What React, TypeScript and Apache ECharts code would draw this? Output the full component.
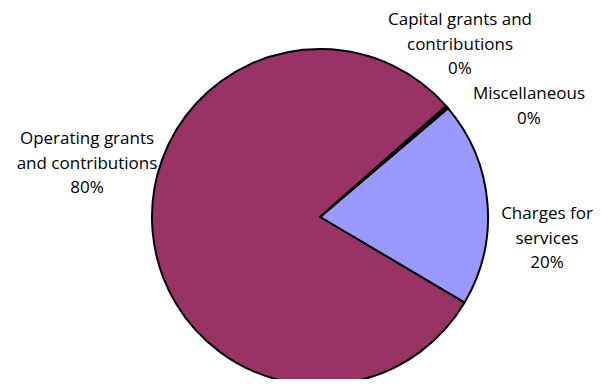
import React, { useEffect, useRef } from "react";
import * as echarts from "echarts";

const categories = [
  "Charges for\nservices",
  "Operating grants\nand contributions",
  "Capital grants and\ncontributions",
  "Miscellaneous",
];
const values = [19.7, 80.0, 0.2, 0.1];
const colors = ["#9999FF", "#993366", "#FFFFCC", "#CCFFFF"];

const labelPos: Record<number, [number, number]> = {
  0: [547, 237],
  1: [87, 162],
  2: [460, 43],
  3: [529, 105],
};

export default function App() {
  const ref = useRef<HTMLDivElement>(null);
  useEffect(() => {
    if (!ref.current) return;
    const chart = echarts.init(ref.current, undefined, { renderer: "svg" });
    chart.setOption({
      animation: false,
      backgroundColor: "#ffffff",
      series: [
        {
          type: "pie",
          center: [320, 217],
          radius: [0, 168],
          startAngle: 40.3,
          clockwise: true,
          percentPrecision: 0,
          avoidLabelOverlap: false,
          minAngle: 0,
          data: categories.map((name, i) => ({
            name,
            value: values[i],
            itemStyle: { color: colors[i] },
          })),
          itemStyle: { borderColor: "#000000", borderWidth: 2 },
          label: {
            show: true,
            position: "outside",
            formatter: "{b}\n{d}%",
            fontFamily: "Open Sans",
            fontSize: 17,
            lineHeight: 24.5,
            color: "#000000",
            align: "center",
          },
          labelLine: { show: false },
          labelLayout: (p: any) => {
            const pos = labelPos[p.dataIndex];
            return { x: pos[0], y: pos[1], align: "center", verticalAlign: "middle" };
          },
          emphasis: { disabled: true },
        },
      ],
    });
    return () => chart.dispose();
  }, []);
  return (
    <div style={{ margin: -8 }}>
      <div ref={ref} style={{ width: 602, height: 387 }} />
    </div>
  );
}
